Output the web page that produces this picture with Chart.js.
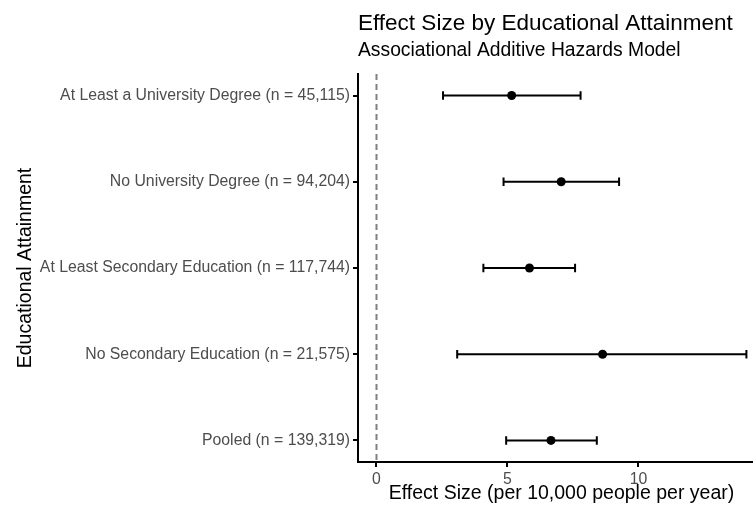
<!DOCTYPE html>
<html>
<head>
<meta charset="utf-8">
<script src="https://cdn.jsdelivr.net/npm/chart.js@4.4.1/dist/chart.umd.min.js"></script>
<style>
  html, body { margin: 0; padding: 0; background: #fff; overflow: hidden; width: 753px; height: 510px; }
  canvas { display: block; }
</style>
</head>
<body>
<canvas id="forest" width="770" height="510"></canvas>
<script>
// chart data
const categories = [
    'At Least a University Degree (n = 45,115)',
    'No University Degree (n = 94,204)',
    'At Least Secondary Education (n = 117,744)',
    'No Secondary Education (n = 21,575)',
    'Pooled (n = 139,319)'
];
const estimate = [5.16, 7.05, 5.84, 8.63, 6.66];
const lower = [2.54, 4.85, 4.08, 3.08, 4.95];
const upper = [7.79, 9.26, 7.58, 14.12, 8.41];
const xTicks = [0, 5, 10];

const FONT = "'Liberation Sans', Arial, sans-serif";

// dashed reference line at 0 and horizontal error bars, drawn under the points
const errorBars = {
    id: 'errorBars',
    beforeDatasetsDraw(chart) {
        const ctx = chart.ctx;
        const x = chart.scales.x;
        const y = chart.scales.y;
        const area = chart.chartArea;

        ctx.save();
        ctx.strokeStyle = '#808080';
        ctx.lineWidth = 2;
        ctx.setLineDash([6, 4]);
        ctx.beginPath();
        ctx.moveTo(x.getPixelForValue(0), area.top);
        ctx.lineTo(x.getPixelForValue(0), area.bottom);
        ctx.stroke();
        ctx.restore();

        ctx.save();
        ctx.strokeStyle = '#000';
        ctx.lineWidth = 2;
        categories.forEach((c, i) => {
            const yc = y.getPixelForValue(i);
            const y0 = y.getPixelForValue(i - 0.05);
            const y1 = y.getPixelForValue(i + 0.05);
            const xl = x.getPixelForValue(lower[i]);
            const xu = x.getPixelForValue(upper[i]);
            ctx.beginPath();
            ctx.moveTo(xl, yc);
            ctx.lineTo(xu, yc);
            ctx.moveTo(xl, y0);
            ctx.lineTo(xl, y1);
            ctx.moveTo(xu, y0);
            ctx.lineTo(xu, y1);
            ctx.stroke();
        });
        ctx.restore();
    }
};

const chart = new Chart(document.getElementById('forest').getContext('2d'), {
    type: 'scatter',
    data: {
        datasets: [{
            data: estimate.map((v, i) => ({ x: v, y: i })),
            pointRadius: 4.5,
            pointBackgroundColor: '#000',
            pointBorderWidth: 0,
            showLine: false
        }]
    },
    options: {
        responsive: false,
        animation: false,
        layout: { padding: { left: 0, right: 5, top: 0, bottom: 0 } },
        plugins: {
            legend: { display: false },
            tooltip: { enabled: false },
            title: {
                display: true,
                text: 'Effect Size by Educational Attainment',
                align: 'start',
                fullSize: false,
                color: '#000',
                font: { family: FONT, size: 22.5, weight: 'normal' },
                padding: { top: 10.5, bottom: 0 }
            },
            subtitle: {
                display: true,
                text: 'Associational Additive Hazards Model',
                align: 'start',
                fullSize: false,
                color: '#000',
                font: { family: FONT, size: 19.3, weight: 'normal' },
                padding: { top: 1.6, bottom: 11.7 }
            }
        },
        scales: {
            x: {
                type: 'linear',
                min: -0.706,
                max: 14.83,
                afterBuildTicks: (scale) => { scale.ticks = xTicks.map(v => ({ value: v })); },
                afterFit: (scale) => { scale.height = 48; },
                grid: { drawOnChartArea: false, drawTicks: true, tickLength: 5, color: '#000', lineWidth: 2 },
                border: { display: true, color: '#000', width: 2 },
                ticks: { color: '#4d4d4d', font: { family: FONT, size: 15.8 }, padding: 3, maxRotation: 0 },
                title: {
                    display: true,
                    text: 'Effect Size (per 10,000 people per year)',
                    color: '#000',
                    font: { family: FONT, size: 19.5 },
                    padding: { top: 0, bottom: 5 }
                }
            },
            y: {
                type: 'linear',
                reverse: true,
                min: -0.25,
                max: 4.25,
                afterBuildTicks: (scale) => { scale.ticks = categories.map((c, i) => ({ value: i })); },
                afterFit: (scale) => { scale.width = 358; },
                grid: { drawOnChartArea: false, drawTicks: true, tickLength: 5, color: '#000', lineWidth: 2 },
                border: { display: true, color: '#000', width: 2 },
                ticks: {
                    color: '#4d4d4d',
                    font: { family: FONT, size: 15.8 },
                    padding: 3,
                    callback: (v) => categories[v]
                },
                title: {
                    display: true,
                    text: 'Educational Attainment',
                    color: '#000',
                    font: { family: FONT, size: 19.5 },
                    padding: { top: 13.5, bottom: 0 }
                }
            }
        }
    },
    plugins: [errorBars]
});
</script>
</body>
</html>
